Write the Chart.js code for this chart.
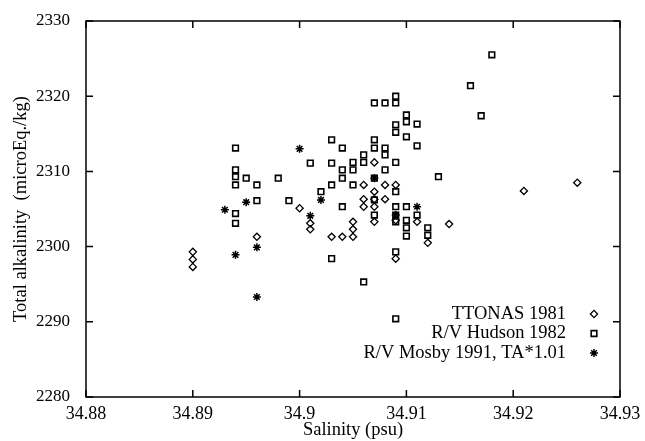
<!DOCTYPE html>
<html>
<head>
<meta charset="utf-8">
<script src="https://cdn.jsdelivr.net/npm/chart.js@4"></script>
<style>
  html, body { margin: 0; padding: 0; background: #fff; }
  #wrap { width: 645px; height: 441px; }
</style>
</head>
<body>
<div id="wrap"><canvas id="c" width="645" height="441"></canvas></div>
<script>
// TTONAS 1981 (diamonds)
const ttonasSal = [34.890, 34.890, 34.890, 34.896, 34.900, 34.901, 34.901, 34.903, 34.904,
  34.905, 34.905, 34.905, 34.906, 34.906, 34.906, 34.907, 34.907, 34.907, 34.907, 34.907,
  34.908, 34.908, 34.909, 34.909, 34.909, 34.911, 34.912, 34.914, 34.921, 34.926];
const ttonasTA = [2299.3, 2298.3, 2297.3, 2301.3, 2305.1, 2303.1, 2302.3, 2301.3, 2301.3,
  2301.3, 2302.3, 2303.3, 2308.2, 2306.3, 2305.3, 2311.2, 2307.3, 2306.3, 2305.3, 2303.3,
  2308.2, 2306.3, 2308.2, 2303.5, 2298.4, 2303.3, 2300.5, 2303.0, 2307.4, 2308.5];

// R/V Hudson 1982 (squares)
const hudsonSal = [34.894, 34.894, 34.894, 34.894, 34.894, 34.894, 34.895, 34.896, 34.896,
  34.898, 34.899, 34.901, 34.902, 34.903, 34.903, 34.903, 34.903, 34.904, 34.904, 34.904, 34.904,
  34.905, 34.905, 34.905, 34.906, 34.906, 34.906, 34.907, 34.907, 34.907, 34.907, 34.907, 34.907,
  34.908, 34.908, 34.908, 34.908, 34.909, 34.909, 34.909, 34.909, 34.909, 34.909, 34.909, 34.909,
  34.909, 34.909, 34.909, 34.910, 34.910, 34.910, 34.910, 34.910, 34.910, 34.910, 34.911, 34.911,
  34.911, 34.912, 34.912, 34.913, 34.916, 34.917, 34.918];
const hudsonTA = [2313.1, 2310.2, 2309.3, 2308.2, 2304.4, 2303.1, 2309.1, 2308.2, 2306.1,
  2309.1, 2306.1, 2311.1, 2307.3, 2314.2, 2311.1, 2308.2, 2298.4, 2313.1, 2310.2, 2309.1, 2305.3,
  2311.2, 2310.2, 2308.2, 2312.2, 2311.2, 2295.3, 2319.1, 2314.2, 2313.1, 2309.1, 2306.2, 2304.2,
  2319.1, 2313.1, 2312.2, 2310.2, 2320.0, 2319.1, 2316.2, 2315.2, 2311.2, 2307.3, 2305.3, 2304.2,
  2303.3, 2299.3, 2290.4, 2317.5, 2316.6, 2314.6, 2305.3, 2303.5, 2302.5, 2301.4, 2316.3, 2313.4,
  2304.2, 2302.5, 2301.5, 2309.3, 2321.4, 2317.4, 2325.5];

// R/V Mosby 1991, TA*1.01 (asterisks)
const mosbySal = [34.893, 34.894, 34.895, 34.896, 34.896, 34.900, 34.901, 34.902, 34.907, 34.909, 34.911];
const mosbyTA = [2304.9, 2298.9, 2305.9, 2299.9, 2293.3, 2313.0, 2304.1, 2306.2, 2309.1, 2304.2, 2305.3];

const xTicks = [34.88, 34.89, 34.90, 34.91, 34.92, 34.93];
const xTickLabels = ['34.88', '34.89', '34.9', '34.91', '34.92', '34.93'];
const yTicks = [2280, 2290, 2300, 2310, 2320, 2330];

const seriesNames = ['TTONAS 1981', 'R/V Hudson 1982', 'R/V Mosby 1991, TA*1.01'];

const serif = "'Liberation Serif', 'DejaVu Serif', serif";

function pts(xs, ys) {
  return xs.map((x, i) => ({ x: x, y: ys[i] }));
}

// box, inward ticks and the in-plot legend
const framePlugin = {
  id: 'frame',
  afterDraw(chart) {
    const ctx = chart.ctx;
    const a = chart.chartArea;
    const xs = chart.scales.x, ys = chart.scales.y;
    ctx.save();
    ctx.strokeStyle = '#000';
    ctx.lineWidth = 1.5;
    ctx.strokeRect(a.left, a.top, a.right - a.left, a.bottom - a.top);
    ctx.beginPath();
    xTicks.forEach(v => {
      const px = xs.getPixelForValue(v);
      ctx.moveTo(px, a.bottom); ctx.lineTo(px, a.bottom - 7);
      ctx.moveTo(px, a.top); ctx.lineTo(px, a.top + 7);
    });
    yTicks.forEach(v => {
      const py = ys.getPixelForValue(v);
      ctx.moveTo(a.left, py); ctx.lineTo(a.left + 7, py);
      ctx.moveTo(a.right, py); ctx.lineTo(a.right - 7, py);
    });
    ctx.stroke();

    // legend, bottom right inside the plot
    ctx.font = '18.5px ' + serif;
    ctx.textAlign = 'right';
    ctx.textBaseline = 'middle';
    const tx = a.right - 54, mx = a.right - 26;
    chart.data.datasets.forEach((ds, i) => {
      const y = a.bottom - 83 + i * 19.5;
      ctx.fillStyle = '#000';
      ctx.fillText(seriesNames[i], tx, y);
      ctx.strokeStyle = '#000';
      ctx.fillStyle = ds.backgroundColor;
      ctx.lineWidth = ds.borderWidth;
      Chart.helpers.drawPoint(ctx, {
        pointStyle: ds.pointStyle, radius: ds.pointRadius, borderWidth: ds.borderWidth, rotation: 0
      }, mx, y);
    });
    ctx.restore();
  }
};

new Chart(document.getElementById('c'), {
  type: 'scatter',
  data: {
    datasets: [
      { label: seriesNames[0], data: pts(ttonasSal, ttonasTA), pointStyle: 'rectRot', pointRadius: 3.6,
        borderColor: '#000', backgroundColor: 'rgba(0,0,0,0)', borderWidth: 1.3 },
      { label: seriesNames[1], data: pts(hudsonSal, hudsonTA), pointStyle: 'rect', pointRadius: 4,
        borderColor: '#000', backgroundColor: 'rgba(0,0,0,0)', borderWidth: 1.6 },
      { label: seriesNames[2], data: pts(mosbySal, mosbyTA), pointStyle: 'star', pointRadius: 4,
        borderColor: '#000', backgroundColor: '#000', borderWidth: 1.5 }
    ]
  },
  options: {
    responsive: false,
    animation: false,
    layout: { padding: { top: 21, right: 25, left: 0, bottom: 0 } },
    plugins: { legend: { display: false }, tooltip: { enabled: false } },
    scales: {
      x: {
        type: 'linear', min: 34.88, max: 34.93,
        afterBuildTicks: s => { s.ticks = xTicks.map(v => ({ value: v })); },
        afterFit: s => { s.height = 44; s.paddingLeft = 0; s.paddingRight = 0; },
        grid: { display: false, drawTicks: false },
        border: { display: false },
        ticks: {
          color: '#000', padding: 6, maxRotation: 0,
          font: { family: serif, size: 18 },
          callback: (v, i) => xTickLabels[i]
        },
        title: { display: true, text: 'Salinity (psu)', color: '#000',
          font: { family: serif, size: 18.5 }, padding: { top: 0, bottom: 0 } }
      },
      y: {
        type: 'linear', min: 2280, max: 2330,
        afterBuildTicks: s => { s.ticks = yTicks.map(v => ({ value: v })); },
        afterFit: s => { s.width = 86; s.paddingTop = 0; s.paddingBottom = 0; },
        grid: { display: false, drawTicks: false },
        border: { display: false },
        ticks: { color: '#000', padding: 16, font: { family: serif, size: 17 },
          callback: v => String(v) },
        title: { display: true, text: 'Total alkalinity  (microEq./kg)', color: '#000',
          font: { family: serif, size: 18.5 }, padding: { top: 10, bottom: 0 } }
      }
    }
  },
  plugins: [framePlugin]
});
</script>
</body>
</html>
